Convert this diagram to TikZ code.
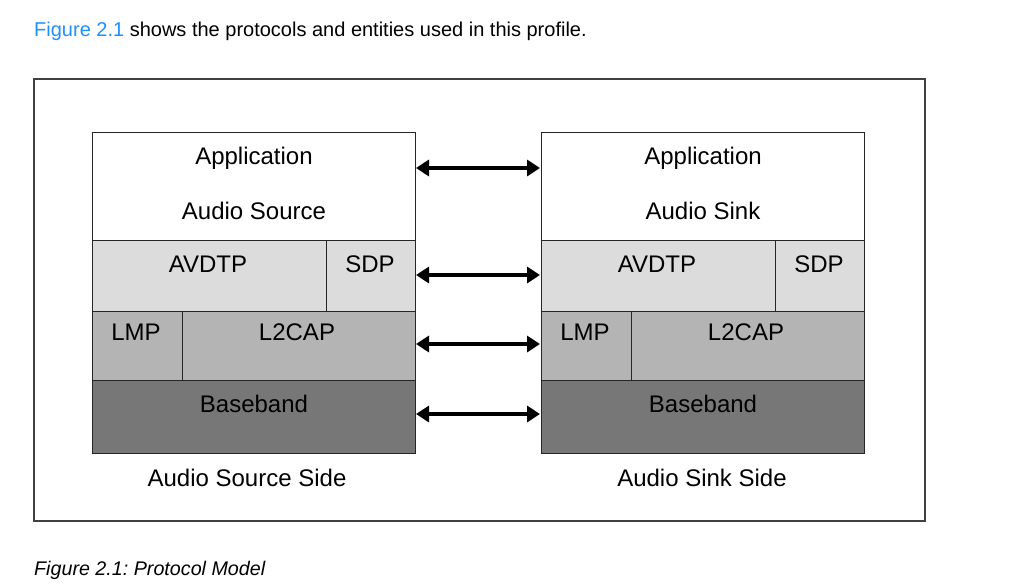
\documentclass[tikz,border=0pt]{standalone}
\usepackage{fontspec}
\setmainfont{Liberation Sans}
\usetikzlibrary{arrows.meta}
\definecolor{linkblue}{RGB}{30,144,255}
\definecolor{rowA}{RGB}{220,220,220}
\definecolor{rowB}{RGB}{180,180,180}
\definecolor{rowC}{RGB}{119,119,119}
\tikzset{
  layer/.style={draw=black!85, line width=1pt, inner sep=0pt},
  lbl/.style={font=\fontsize{24}{28}\selectfont, inner sep=0pt, anchor=base},
  peer/.style={line width=4.4pt, {Triangle[length=13pt,width=16pt]}-{Triangle[length=13pt,width=16pt]}, shorten <=1pt, shorten >=1pt},
}
\begin{document}
\frenchspacing
\begin{tikzpicture}[x=1pt,y=-1pt]
\useasboundingbox (0,0) rectangle (1016,587);
\fill[white] (0,0) rectangle (1016,587);

% intro line
\node[anchor=base west, inner sep=0pt, font=\fontsize{20}{24}\selectfont] (intro) at (34,36)
  {\textcolor{linkblue}{Figure 2.1} shows the protocols and entities used in this profile.};

% outer frame
\draw[draw=black!75, line width=1.1pt] (34,79) rectangle (925,521);

% ---------- left stack ----------
\draw[layer, fill=white] (92,132) rectangle (415,240);
\coordinate (LApp) at (415,168);
\draw[layer, fill=rowA] (92,240) rectangle (326,311);
\draw[layer, fill=rowA] (326,240) rectangle (415,311);
\coordinate (LSdp) at (415,275);
\draw[layer, fill=rowB] (92,311) rectangle (182,380);
\draw[layer, fill=rowB] (182,311) rectangle (415,380);
\coordinate (LL2) at (415,344);
\draw[layer, fill=rowC] (92,380) rectangle (415,453);
\coordinate (LBb) at (415,414);

\node[lbl] (lapp) at (254,164) {Application};
\node[lbl] (lsrc) at (254,219) {Audio Source};
\node[lbl] (lavd) at (208,272) {AVDTP};
\node[lbl] (lsdp) at (370,272) {SDP};
\node[lbl] (llmp) at (136,340) {LMP};
\node[lbl] (ll2c) at (297,340) {L2CAP};
\node[lbl] (lbb) at (254,412) {Baseband};
\node[lbl] (lside) at (247,486) {Audio Source Side};

% ---------- right stack ----------
\draw[layer, fill=white] (541,132) rectangle (864,240);
\coordinate (RApp) at (541,168);
\draw[layer, fill=rowA] (541,240) rectangle (775,311);
\draw[layer, fill=rowA] (775,240) rectangle (864,311);
\coordinate (RSdp) at (541,275);
\draw[layer, fill=rowB] (541,311) rectangle (631,380);
\draw[layer, fill=rowB] (631,311) rectangle (864,380);
\coordinate (RL2) at (541,344);
\draw[layer, fill=rowC] (541,380) rectangle (864,453);
\coordinate (RBb) at (541,414);

\node[lbl] (rapp) at (703,164) {Application};
\node[lbl] (rsnk) at (703,219) {Audio Sink};
\node[lbl] (ravd) at (657,272) {AVDTP};
\node[lbl] (rsdp) at (819,272) {SDP};
\node[lbl] (rlmp) at (585,340) {LMP};
\node[lbl] (rl2c) at (746,340) {L2CAP};
\node[lbl] (rbb) at (703,412) {Baseband};
\node[lbl] (rside) at (702,486) {Audio Sink Side};

% peer arrows
\draw[peer] (LApp) -- (RApp);
\draw[peer] (LSdp) -- (RSdp);
\draw[peer] (LL2) -- (RL2);
\draw[peer] (LBb) -- (RBb);

% caption
\node[anchor=base west, inner sep=0pt, font=\fontsize{19.7}{23}\selectfont\itshape] (cap) at (34,575)
  {Figure 2.1: Protocol Model};
\end{tikzpicture}
\end{document}
